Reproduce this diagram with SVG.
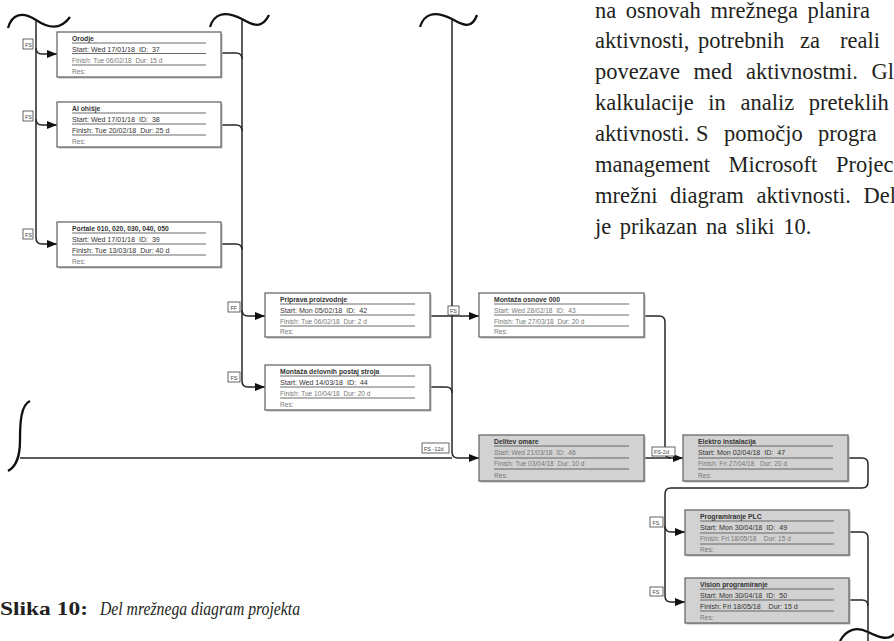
<svg xmlns="http://www.w3.org/2000/svg" width="894" height="641" viewBox="0 0 894 641">
<style>
.bg{fill:#fff}
.box{fill:#fff;stroke:#6a6a6a;stroke-width:1.3}
.gbox{fill:#d2d2d2;stroke:#6a6a6a;stroke-width:1.3}
.shadow{fill:#b8b8b8}
.sep{stroke:#5a5a5a;stroke-width:0.9}
.t{font-family:"Liberation Sans",Arial,sans-serif;font-size:7.1px;fill:#333;white-space:pre}
.tt{font-family:"Liberation Sans",Arial,sans-serif;font-size:6.8px;font-weight:bold;fill:#333;white-space:pre}
.tf{font-family:"Liberation Sans",Arial,sans-serif;font-size:6.6px;fill:#777;white-space:pre}
.con{fill:none;stroke:#262626;stroke-width:1.5}
.wave{fill:none;stroke:#111;stroke-width:2.3}
.lbl{fill:#fff;stroke:#555;stroke-width:0.9}
.lt{font-family:"Liberation Sans",Arial,sans-serif;font-size:5.5px;fill:#444;white-space:pre}
.body{font-family:"Liberation Serif","Times New Roman",serif;font-size:22.5px;fill:#231f20}
.cap{font-family:"Liberation Serif","Times New Roman",serif;font-size:19px;fill:#231f20}
</style>
<defs>
<marker id="arr" markerWidth="10" markerHeight="8" refX="10" refY="4" orient="auto" markerUnits="userSpaceOnUse">
<path d="M0,0 L10,4 L0,8 z" fill="#111"/>
</marker>
</defs>
<rect class="bg" width="894" height="641"/>

<g id="connectors">
<path class="wave" d="M8,28 C12,14 22,11 36,20 C48,28 60,31 70,17"/>
<path class="wave" d="M210,27 C214,14 224,10 242,19 C254,26 262,29 269,15"/>
<path class="wave" d="M420,27 C424,14 434,10 452,19 C464,26 472,29 477,15"/>
<path class="wave" d="M30,401 C21,405 20,422 20,440 C20,456 17,466 8,471"/>
<path class="wave" d="M840,641 C846,630 856,626 868,632 C878,637 888,641 894,634"/>

<path class="con" d="M36,20 V238"/>
<path class="con" d="M36,48 Q36,54 42,54 H57" marker-end="url(#arr)"/>
<path class="con" d="M36,119 Q36,125 42,125 H57" marker-end="url(#arr)"/>
<path class="con" d="M36,238 Q36,244 42,244 H57" marker-end="url(#arr)"/>

<path class="con" d="M242,19 V381"/>
<path class="con" d="M221,53 H236 Q242,53 242,59"/>
<path class="con" d="M221,125 H236 Q242,125 242,131"/>
<path class="con" d="M221,244 H236 Q242,244 242,250"/>
<path class="con" d="M242,310 Q242,316 248,316 H265" marker-end="url(#arr)"/>
<path class="con" d="M242,381 Q242,387 248,387 H265" marker-end="url(#arr)"/>

<path class="con" d="M452,19 V452 Q452,458 458,458 H479" marker-end="url(#arr)"/>
<path class="con" d="M430,316 H479" marker-end="url(#arr)"/>
<path class="con" d="M430,387 H446 Q452,387 452,393"/>
<path class="con" d="M20,458 H452"/>

<path class="con" d="M644,316 H659 Q665,316 665,322 V452 Q665,458 671,458"/>
<path class="con" d="M644,458 H683" marker-end="url(#arr)"/>

<path class="con" d="M848,458 H862 Q868,458 868,464 V482 Q868,488 862,488 H671 Q665,488 665,494 V596 Q665,602 671,602 H685" marker-end="url(#arr)"/>
<path class="con" d="M665,526 Q665,532 671,532 H685" marker-end="url(#arr)"/>
<path class="con" d="M849,532 H862 Q868,532 868,538 V641"/>
<path class="con" d="M849,600 H862 Q868,600 868,606"/>

<rect class="lbl" x="23" y="39" width="10" height="10"/><text class="lt" x="25" y="46.5">FS</text>
<rect class="lbl" x="23" y="111" width="10" height="10"/><text class="lt" x="25" y="118.5">FS</text>
<rect class="lbl" x="23" y="229" width="10" height="10"/><text class="lt" x="25" y="236.5">FS</text>
<rect class="lbl" x="228" y="302" width="12" height="10"/><text class="lt" x="230.5" y="309.5">FF</text>
<rect class="lbl" x="228" y="372" width="12" height="10"/><text class="lt" x="230.5" y="379.5">FS</text>
<rect class="lbl" x="448" y="306" width="11" height="9"/><text class="lt" x="450" y="313">FS</text>
<rect class="lbl" x="422" y="443" width="27" height="10"/><text class="lt" x="424" y="450.5">FS -12d</text>
<rect class="lbl" x="652" y="447" width="23" height="9"/><text class="lt" x="654" y="454">FS-2d</text>
<rect class="lbl" x="650" y="517" width="13" height="10"/><text class="lt" x="652.5" y="524.5">FS</text>
<rect class="lbl" x="650" y="587" width="13" height="9"/><text class="lt" x="652.5" y="594">FS</text>
</g>

<g id="n37" transform="translate(57,32)">
<rect class="shadow" x="1.5" y="1.5" width="164" height="45"/>
<rect class="box" width="164" height="45"/>
<text class="tt" x="15" y="8.5">Orodje</text>
<line class="sep" x1="15" y1="11" x2="149" y2="11"/>
<text class="t" x="15" y="19.5">Start: Wed 17/01/18  ID:  37</text>
<line class="sep" x1="15" y1="21.5" x2="149" y2="21.5"/>
<text class="tf" x="15" y="30.5">Finish: Tue 06/02/18  Dur: 15 d</text>
<line class="sep" x1="15" y1="33" x2="149" y2="33"/>
<text class="tf" x="15" y="42">Res:</text>
</g>

<g id="n38" transform="translate(57,102)">
<rect class="shadow" x="1.5" y="1.5" width="164" height="45"/>
<rect class="box" width="164" height="45"/>
<text class="tt" x="15" y="8.5">Al ohišje</text>
<line class="sep" x1="15" y1="11" x2="149" y2="11"/>
<text class="t" x="15" y="19.5">Start: Wed 17/01/18  ID:  38</text>
<line class="sep" x1="15" y1="22" x2="149" y2="22"/>
<text class="t" x="15" y="30.5">Finish: Tue 20/02/18  Dur: 25 d</text>
<line class="sep" x1="15" y1="33" x2="149" y2="33"/>
<text class="tf" x="15" y="42">Res:</text>
</g>

<g id="n39" transform="translate(57,222)">
<rect class="shadow" x="1.5" y="1.5" width="164" height="45"/>
<rect class="box" width="164" height="45"/>
<text class="tt" x="15" y="8.5">Portale 010, 020, 030, 040, 050</text>
<line class="sep" x1="15" y1="11" x2="149" y2="11"/>
<text class="t" x="15" y="19.5">Start: Wed 17/01/18  ID:  39</text>
<line class="sep" x1="15" y1="22" x2="149" y2="22"/>
<text class="t" x="15" y="30.5">Finish: Tue 13/03/18  Dur: 40 d</text>
<line class="sep" x1="15" y1="33" x2="149" y2="33"/>
<text class="tf" x="15" y="42">Res:</text>
</g>

<g id="n42" transform="translate(265,293)">
<rect class="shadow" x="1.5" y="1.5" width="165" height="44"/>
<rect class="box" width="165" height="44"/>
<text class="tt" x="15" y="8.5">Priprava proizvodnje</text>
<line class="sep" x1="15" y1="11" x2="150" y2="11"/>
<text class="t" x="15" y="19.5">Start: Mon 05/02/18  ID:  42</text>
<line class="sep" x1="15" y1="22" x2="150" y2="22"/>
<text class="tf" x="15" y="30.5">Finish: Tue 06/02/18  Dur: 2 d</text>
<line class="sep" x1="15" y1="33" x2="150" y2="33"/>
<text class="tf" x="15" y="41">Res:</text>
</g>

<g id="n44" transform="translate(265,365)">
<rect class="shadow" x="1.5" y="1.5" width="165" height="45"/>
<rect class="box" width="165" height="45"/>
<text class="tt" x="15" y="8.5">Montaža delovnih postaj stroja</text>
<line class="sep" x1="15" y1="11" x2="150" y2="11"/>
<text class="t" x="15" y="19.5">Start: Wed 14/03/18  ID:  44</text>
<line class="sep" x1="15" y1="22" x2="150" y2="22"/>
<text class="tf" x="15" y="30.5">Finish: Tue 10/04/18  Dur: 20 d</text>
<line class="sep" x1="15" y1="33" x2="150" y2="33"/>
<text class="tf" x="15" y="42">Res:</text>
</g>

<g id="n43" transform="translate(479,293)">
<rect class="shadow" x="1.5" y="1.5" width="165" height="44"/>
<rect class="box" width="165" height="44"/>
<text class="tt" x="15" y="8.5">Montaža osnove 000</text>
<line class="sep" x1="15" y1="11" x2="150" y2="11"/>
<text class="tf" x="15" y="19.5">Start: Wed 28/02/18  ID:  43</text>
<line class="sep" x1="15" y1="22" x2="150" y2="22"/>
<text class="tf" x="15" y="30.5">Finish: Tue 27/03/18  Dur: 20 d</text>
<line class="sep" x1="15" y1="33" x2="150" y2="33"/>
<text class="tf" x="15" y="41">Res:</text>
</g>

<g id="n46" transform="translate(479,435)">
<rect class="shadow" x="1.5" y="1.5" width="165" height="46"/>
<rect class="gbox" width="165" height="46"/>
<text class="tt" x="15" y="8.5">Delitev omare</text>
<line class="sep" x1="15" y1="11" x2="150" y2="11"/>
<text class="tf" x="15" y="20">Start: Wed 21/03/18  ID:  46</text>
<line class="sep" x1="15" y1="23" x2="150" y2="23"/>
<text class="tf" x="15" y="31">Finish: Tue 03/04/18  Dur: 10 d</text>
<line class="sep" x1="15" y1="34" x2="150" y2="34"/>
<text class="tf" x="15" y="43">Res:</text>
</g>

<g id="n47" transform="translate(683,435)">
<rect class="shadow" x="1.5" y="1.5" width="165" height="46"/>
<rect class="gbox" width="165" height="46"/>
<text class="tt" x="15" y="8.5">Elektro instalacija</text>
<line class="sep" x1="15" y1="11" x2="150" y2="11"/>
<text class="t" x="15" y="20">Start: Mon 02/04/18  ID:  47</text>
<line class="sep" x1="15" y1="23" x2="150" y2="23"/>
<text class="tf" x="15" y="31">Finish: Fri 27/04/18   Dur: 20 d</text>
<line class="sep" x1="15" y1="34" x2="150" y2="34"/>
<text class="tf" x="15" y="43">Res:</text>
</g>

<g id="n49" transform="translate(685,510)">
<rect class="shadow" x="1.5" y="1.5" width="164" height="45"/>
<rect class="gbox" width="164" height="45"/>
<text class="tt" x="15" y="8.5">Programiranje PLC</text>
<line class="sep" x1="15" y1="11" x2="149" y2="11"/>
<text class="t" x="15" y="20">Start: Mon 30/04/18  ID:  49</text>
<line class="sep" x1="15" y1="23" x2="149" y2="23"/>
<text class="tf" x="15" y="31">Finish: Fri 18/05/18    Dur: 15 d</text>
<line class="sep" x1="15" y1="34" x2="149" y2="34"/>
<text class="tf" x="15" y="42">Res:</text>
</g>

<g id="n50" transform="translate(685,578)">
<rect class="shadow" x="1.5" y="1.5" width="164" height="45"/>
<rect class="gbox" width="164" height="45"/>
<text class="tt" x="15" y="8.5">Vision programiranje</text>
<line class="sep" x1="15" y1="11" x2="149" y2="11"/>
<text class="t" x="15" y="19.5">Start: Mon 30/04/18  ID:  50</text>
<line class="sep" x1="15" y1="22" x2="149" y2="22"/>
<text class="t" x="15" y="30.5">Finish: Fri 18/05/18    Dur: 15 d</text>
<line class="sep" x1="15" y1="33" x2="149" y2="33"/>
<text class="tf" x="15" y="42">Res:</text>
</g>

<g id="body-text">
<text class="body" x="595" y="18" word-spacing="4">na osnovah mrežnega planira</text>
<text class="body" y="48"><tspan x="595">aktivnosti,</tspan><tspan x="698">potrebnih</tspan><tspan x="800">za</tspan><tspan x="840">reali</tspan></text>
<text class="body" x="595" y="79" word-spacing="8">povezave med aktivnostmi. Gl</text>
<text class="body" x="595" y="110" word-spacing="9">kalkulacije in analiz preteklih</text>
<text class="body" y="141"><tspan x="595">aktivnosti.</tspan><tspan x="696">S</tspan><tspan x="724">pomočjo</tspan><tspan x="818">progra</tspan></text>
<text class="body" x="595" y="172" word-spacing="13">management Microsoft Projec</text>
<text class="body" x="595" y="203" word-spacing="7">mrežni diagram aktivnosti. Del</text>
<text class="body" x="595" y="234" word-spacing="3">je prikazan na sliki 10.</text>
</g>

<g id="caption">
<text class="cap" x="0" y="615" font-weight="bold" textLength="88" lengthAdjust="spacingAndGlyphs">Slika 10:</text>
<text class="cap" x="100" y="615" font-style="italic" textLength="200" lengthAdjust="spacingAndGlyphs">Del mrežnega diagram projekta</text>
</g>
</svg>
